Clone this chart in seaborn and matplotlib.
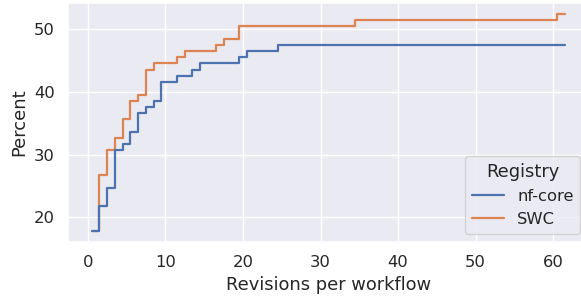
import numpy as np
import pandas as pd
import seaborn as sns
import matplotlib
matplotlib.use('Agg')
import matplotlib.pyplot as plt

# number of workflows per revision count
nfcore_revisions = [1, 2, 3, 4, 5, 6, 7, 8, 9, 10, 12, 14, 15, 20, 21, 25]
nfcore_counts = [18, 4, 3, 6, 1, 2, 3, 1, 1, 3, 1, 1, 1, 1, 1, 1]

swc_revisions = [1, 2, 3, 4, 5, 6, 7, 8, 9, 12, 13, 17, 18, 20, 35, 61]
swc_counts = [18, 9, 4, 2, 3, 3, 1, 4, 1, 1, 1, 1, 1, 2, 1, 1]

registries = ['nf-core', 'SWC']

data = pd.concat([
    pd.DataFrame({'Revisions': np.repeat(nfcore_revisions, nfcore_counts), 'Registry': 'nf-core'}),
    pd.DataFrame({'Revisions': np.repeat(swc_revisions, swc_counts), 'Registry': 'SWC'}),
], ignore_index=True)

sns.set_theme(font_scale=1.07)
fig, ax = plt.subplots(figsize=(5.81, 2.99), dpi=100)
sns.histplot(data=data, x='Revisions', hue='Registry', hue_order=registries,
             discrete=True, cumulative=True, element='step', fill=False,
             stat='percent', linewidth=1.6, ax=ax)
ax.set_xlabel('Revisions per workflow')
ax.set_ylabel('Percent')
sns.move_legend(ax, 'lower right')
# the original figure was cropped tight, the right edge of the axes is cut off
fig.subplots_adjust(left=0.117, right=1.013, top=0.99, bottom=0.191)
fig.savefig('out.png')
